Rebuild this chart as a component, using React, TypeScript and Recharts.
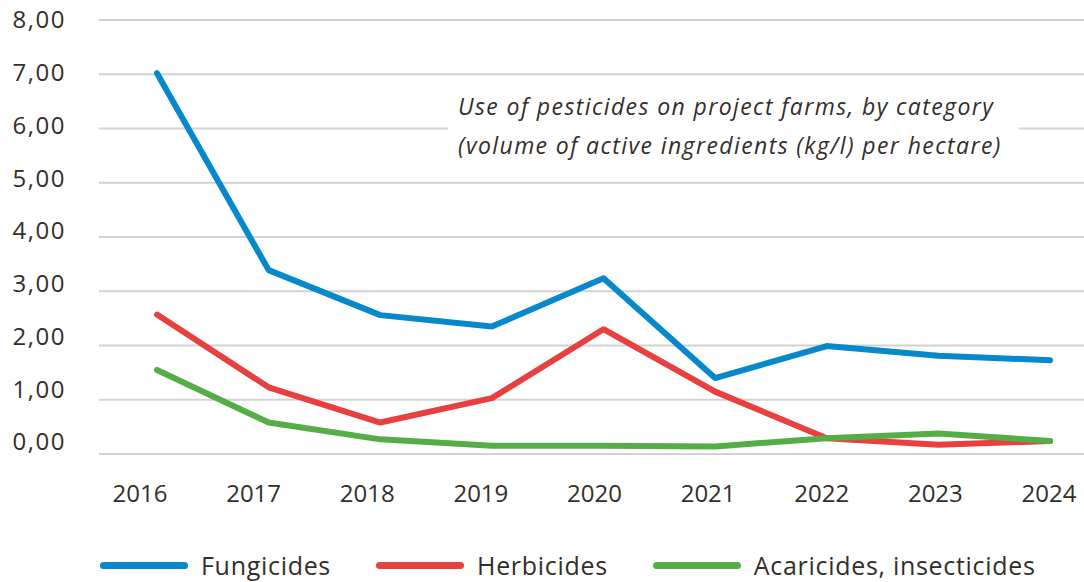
import React from 'react';
import { LineChart, Line, XAxis, YAxis, CartesianGrid, Legend } from 'recharts';

// values
const years = ['2016', '2017', '2018', '2019', '2020', '2021', '2022', '2023', '2024'];
const fungicides = [7.02, 3.39, 2.56, 2.35, 3.24, 1.4, 1.99, 1.81, 1.73];
const herbicides = [2.57, 1.23, 0.58, 1.03, 2.3, 1.15, 0.29, 0.17, 0.24];
const acaricides = [1.55, 0.58, 0.27, 0.15, 0.15, 0.14, 0.29, 0.38, 0.24];
const seriesNames = ['Fungicides', 'Herbicides', 'Acaricides, insecticides'];
const yTicks = [0, 1, 2, 3, 4, 5, 6, 7, 8];

const data = years.map((year, i) => ({
  year,
  fungicides: fungicides[i],
  herbicides: herbicides[i],
  acaricides: acaricides[i],
}));

const textColor = '#332e2a';
const font = '"Open Sans", "Noto Sans", sans-serif';

const formatTick = (v: number) => v.toFixed(2).replace('.', ',');

// the original labels drift a little off the grid, mimic that
const YTick = (props: any) => {
  const { x, y, payload } = props;
  const shift = -(8 - payload.value) * 1.5;
  return (
    <text
      x={x}
      y={y + shift}
      dy="0.35em"
      textAnchor="end"
      fill={textColor}
      fontSize={24}
      fontFamily={font}
      letterSpacing={1.5}
    >
      {formatTick(payload.value)}
    </text>
  );
};

const XTick = (props: any) => {
  const { x, y, payload, index } = props;
  const shift = -17 + 2 * index;
  return (
    <text
      x={x + shift}
      y={y}
      dy="0.71em"
      textAnchor="middle"
      fill={textColor}
      fontSize={24}
      fontFamily={font}
    >
      {payload.value}
    </text>
  );
};

const LegendContent = (props: any) => {
  const items = [...(props.payload || [])].sort(
    (a: any, b: any) => seriesNames.indexOf(a.value) - seriesNames.indexOf(b.value)
  );
  return (
    <div style={{ display: 'flex', alignItems: 'center', paddingLeft: 100 }}>
      {items.map((item: any) => (
        <div key={item.value} style={{ display: 'flex', alignItems: 'center', marginRight: 45 }}>
          <div
            style={{
              width: 88,
              height: 7,
              borderRadius: 4,
              background: item.color,
              marginRight: 13,
            }}
          ></div>
          <span style={{ fontFamily: font, fontSize: 25, letterSpacing: 0.7, color: textColor }}>
            {item.value}
          </span>
        </div>
      ))}
    </div>
  );
};

export default function App() {
  return (
    <div style={{ position: 'absolute', left: 0, top: 0, width: 1084, height: 582, background: '#fff' }}>
      <LineChart
        width={1084}
        height={582}
        data={data}
        margin={{ top: 20, right: 0, left: 0, bottom: 58 }}
      >
        <CartesianGrid vertical={false} stroke="#d2d2d2" strokeWidth={2} />
        <XAxis
          dataKey="year"
          axisLine={false}
          tickLine={false}
          tickSize={0}
          tickMargin={31}
          height={70}
          padding={{ left: 58, right: 34 }}
          tick={<XTick />}
          interval={0}
        />
        <YAxis
          domain={[0, 8]}
          ticks={yTicks}
          width={99}
          axisLine={false}
          tickLine={false}
          tickSize={0}
          tickMargin={33}
          tick={<YTick />}
        />
        <Legend
          layout="horizontal"
          verticalAlign="middle"
          align="center"
          content={<LegendContent />}
          wrapperStyle={{ top: 548, left: 0, width: 1084 }}
        />
        <Line
          type="linear"
          dataKey="fungicides"
          name={seriesNames[0]}
          stroke="#0788cb"
          strokeWidth={6}
          strokeLinecap="round"
          strokeLinejoin="round"
          dot={false}
          activeDot={false}
          isAnimationActive={false}
        />
        <Line
          type="linear"
          dataKey="herbicides"
          name={seriesNames[1]}
          stroke="#e8403f"
          strokeWidth={6}
          strokeLinecap="round"
          strokeLinejoin="round"
          dot={false}
          activeDot={false}
          isAnimationActive={false}
        />
        <Line
          type="linear"
          dataKey="acaricides"
          name={seriesNames[2]}
          stroke="#55ad46"
          strokeWidth={6}
          strokeLinecap="round"
          strokeLinejoin="round"
          dot={false}
          activeDot={false}
          isAnimationActive={false}
        />
      </LineChart>
      <div
        style={{
          position: 'absolute',
          left: 448,
          top: 87,
          width: 571,
          height: 78,
          background: '#fff',
          boxSizing: 'border-box',
          paddingLeft: 10,
          fontFamily: font,
          fontStyle: 'italic',
          fontSize: 23,
          letterSpacing: 1.4,
          lineHeight: '39px',
          color: textColor,
          whiteSpace: 'nowrap',
        }}
      >
        Use of pesticides on project farms, by category
        <br />
        (volume of active ingredients (kg/l) per hectare)
      </div>
    </div>
  );
}
